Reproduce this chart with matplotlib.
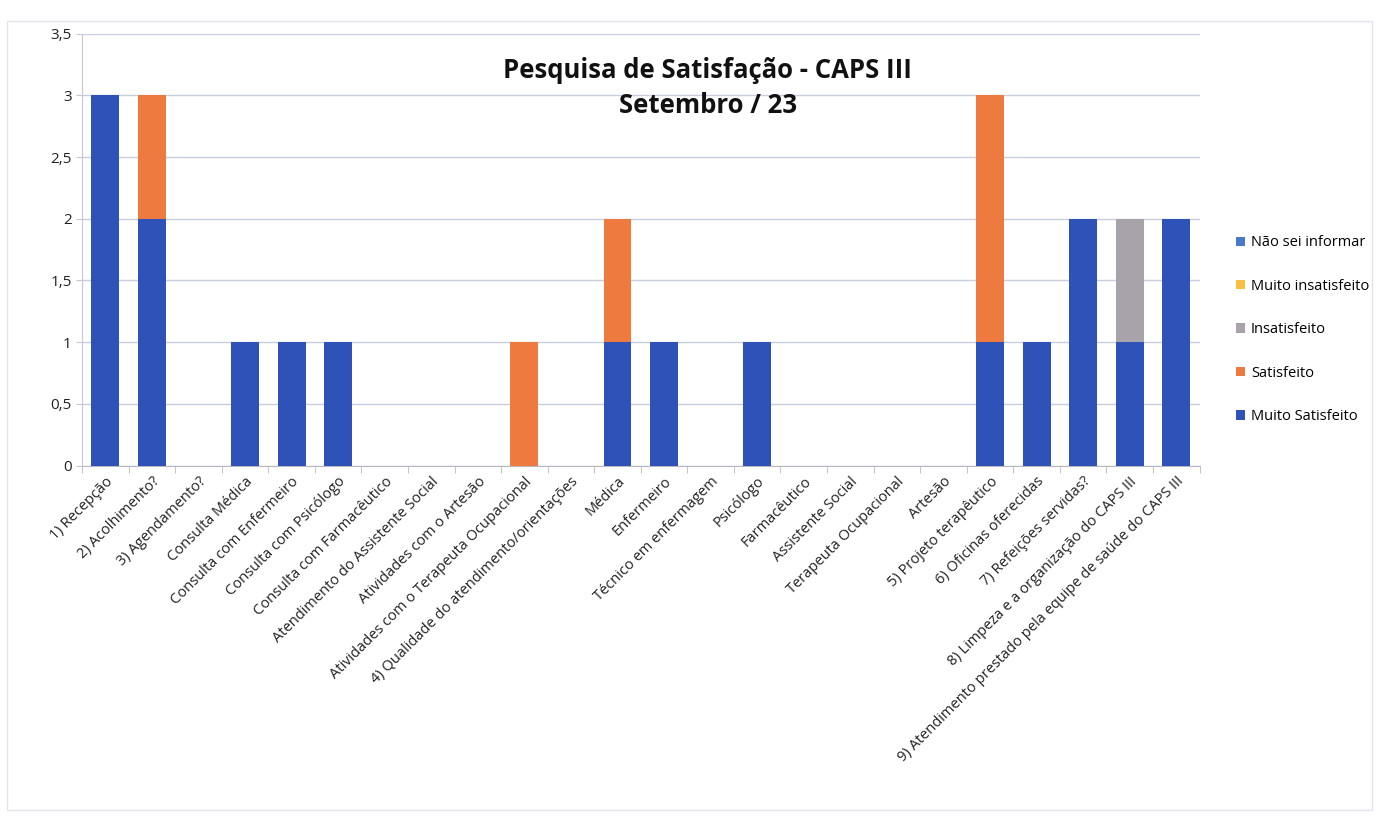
import matplotlib
matplotlib.use("Agg")
import matplotlib.pyplot as plt
import numpy as np
from matplotlib.patches import Rectangle
from matplotlib.ticker import FuncFormatter, MultipleLocator

categories = [
    "1) Recepção", "2) Acolhimento?", "3) Agendamento?", "Consulta Médica",
    "Consulta com Enfermeiro", "Consulta com Psicólogo", "Consulta com Farmacêutico",
    "Atendimento do Assistente Social", "Atividades com o Artesão",
    "Atividades com o Terapeuta Ocupacional", "4) Qualidade do atendimento/orientações",
    "Médica", "Enfermeiro", "Técnico em enfermagem", "Psicólogo", "Farmacêutico",
    "Assistente Social", "Terapeuta Ocupacional", "Artesão", "5) Projeto terapêutico",
    "6) Oficinas oferecidas", "7) Refeições servidas?",
    "8) Limpeza e a organização do CAPS III",
    "9) Atendimento prestado pela equipe de saúde do CAPS III",
]
muito_satisfeito = [3, 2, 0, 1, 1, 1, 0, 0, 0, 0, 0, 1, 1, 0, 1, 0, 0, 0, 0, 1, 1, 2, 1, 2]
satisfeito       = [0, 1, 0, 0, 0, 0, 0, 0, 0, 1, 0, 1, 0, 0, 0, 0, 0, 0, 0, 2, 0, 0, 0, 0]
insatisfeito     = [0, 0, 0, 0, 0, 0, 0, 0, 0, 0, 0, 0, 0, 0, 0, 0, 0, 0, 0, 0, 0, 0, 1, 0]
muito_insatisfeito = [0] * 24
nao_sei = [0] * 24

series = [
    ("Muito Satisfeito", muito_satisfeito, "#2e52b8"),
    ("Satisfeito", satisfeito, "#ef7a3f"),
    ("Insatisfeito", insatisfeito, "#a8a2ab"),
    ("Muito insatisfeito", muito_insatisfeito, "#f7c042"),
    ("Não sei informar", nao_sei, "#4a78c8"),
]

plt.rcParams['font.family'] = ['Open Sans', 'DejaVu Sans']

fig = plt.figure(figsize=(13.9, 8.39), dpi=100)
ax = fig.add_axes([0.059, 0.445, 0.804, 0.515])

x = np.arange(len(categories))
bottom = np.zeros(len(categories))
handles = []
for name, vals, col in series:
    v = np.array(vals, dtype=float)
    b = ax.bar(x, v, bottom=bottom, width=0.6, color=col, label=name, zorder=3)
    bottom += v
    handles.append(b)

ax.set_ylim(0, 3.5)
ax.set_xlim(-0.5, len(categories) - 0.5)
ax.yaxis.set_major_locator(MultipleLocator(0.5))
ax.yaxis.set_major_formatter(FuncFormatter(lambda v, p: ('%g' % v).replace('.', ',')))
ax.grid(axis='y', color='#c9cde0', linewidth=1.0, zorder=0)
ax.set_axisbelow(True)
for s in ['top', 'right']:
    ax.spines[s].set_visible(False)
ax.spines['left'].set_color('#c8c8d0')
ax.spines['bottom'].set_color('#b8b8c0')

ax.set_xticks(x)
ax.set_xticklabels(categories, rotation=45, ha='right', rotation_mode='anchor',
                   fontsize=10.5, color='#222222')
ax.tick_params(axis='x', length=0, pad=6)
ax.set_xticks(np.arange(-0.5, len(categories), 1), minor=True)
ax.tick_params(axis='x', which='minor', length=5, color='#b8b8c0')
ax.tick_params(axis='y', length=4, color='#c8c8d0', labelsize=11, labelcolor='#222222')

ax.text(0.56, 0.945, "Pesquisa de Satisfação - CAPS III\nSetembro / 23",
        transform=ax.transAxes, ha='center', va='top', fontsize=18.5,
        fontweight='bold', color='#111111', linespacing=1.35, zorder=5)

leg_handles = handles[::-1]
leg = fig.legend(leg_handles, [h.get_label() for h in leg_handles],
                 loc='center left', bbox_to_anchor=(0.88, 0.607), frameon=False,
                 fontsize=10.5, handlelength=0.6, handleheight=0.6,
                 labelspacing=1.95, handletextpad=0.4)

fig.patches.append(Rectangle((0.005, 0.035), 0.982, 0.94, transform=fig.transFigure,
                             fill=False, edgecolor='#e2e4ec', linewidth=1.0))

fig.savefig("out.png", dpi=100)
